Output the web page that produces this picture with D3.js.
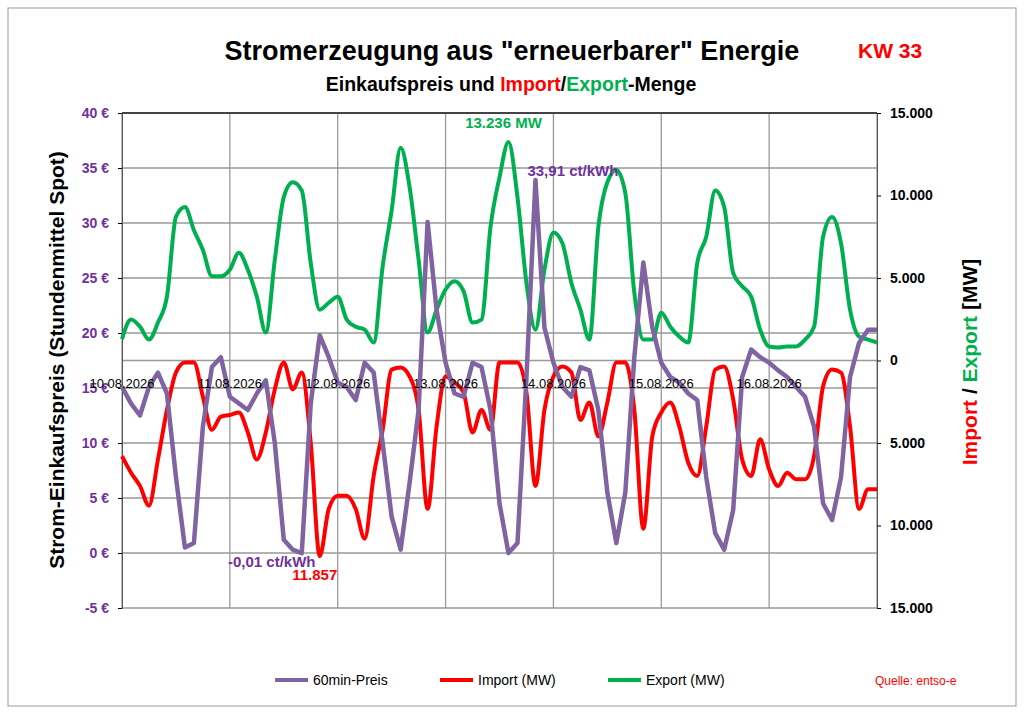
<!DOCTYPE html>
<html><head><meta charset="utf-8">
<script src="https://cdn.jsdelivr.net/npm/d3@7"></script>
<style>body{margin:0;background:#fff}svg{font-family:Arial,"Liberation Sans",sans-serif}</style>
</head><body><svg id="c" width="1024" height="724"></svg>
<script>
// 2-hour samples, 10.08.2026 00:00 .. 17.08.2026 00:00
const days = ["10.08.2026","11.08.2026","12.08.2026","13.08.2026","14.08.2026","15.08.2026","16.08.2026"];
const price = [15.1,13.6,12.5,15.1,16.4,14.5,6.9,0.5,0.9,11.5,16.9,17.8,
  14.2,13.6,13.0,14.5,15.7,10.0,1.2,0.3,-0.01,13.6,19.8,17.8,
  15.5,15.1,13.9,17.3,16.4,10.0,3.3,0.3,6.4,13.0,30.1,22.1,
  17.3,14.5,14.2,17.3,16.9,13.0,4.5,0.0,0.9,16.0,33.91,20.5,
  17.3,15.1,14.2,16.9,16.6,13.0,5.5,0.9,5.5,17.8,26.4,20.5,
  17.3,16.0,15.5,14.5,13.9,6.9,1.8,0.3,3.9,16.0,18.5,17.8,
  17.3,16.6,16.0,15.1,14.2,11.5,4.5,3.0,6.9,16.0,19.1,20.3,20.3];
const importMW = [5800,6800,7600,8800,6000,3000,730,120,120,2200,4200,3400,
  3300,3150,4360,6000,4360,1750,120,1750,730,5000,11857,9000,
  8200,8200,9000,10800,7000,4200,550,420,970,3000,9000,4000,
  970,1330,1940,4360,3000,4200,120,120,120,1940,7600,3000,
  970,360,730,3600,2540,4600,2540,120,120,3000,10200,4600,
  3150,2540,4000,6200,7000,4000,550,360,2360,6000,7000,4780,
  6600,7600,6800,7200,7200,5800,1570,550,730,4000,9000,7800,7800];
const exportMW = [1300,2480,2050,1270,2300,3870,8700,9300,7900,6700,5100,5100,
  5500,6530,5500,3870,1700,6100,9900,10800,10300,5900,3080,3500,
  3870,2480,2050,1870,1090,5700,9100,12900,10500,6100,1700,3080,
  4300,4800,4200,2300,2480,8100,11100,13236,9900,4700,1870,5500,
  7750,7100,4700,3080,1270,8100,10800,11550,10150,4100,1270,1270,
  2900,2050,1450,1090,5900,7500,10300,9300,5300,4500,3870,1870,
  850,790,850,850,1270,2050,7500,8700,7100,3080,1450,1270,1090];
const priceTicks = d3.range(-5,41,5);
const mwTicks = [-15000,-10000,-5000,0,5000,10000,15000];

const svg = d3.select("#c");
const L = 122, R = 877, T = 113, B = 608;
const x = d3.scaleLinear().domain([0, 168]).range([L, R]);
const yP = d3.scaleLinear().domain([-5, 40]).range([B, T]);
const yM = d3.scaleLinear().domain([-15000, 15000]).range([B, T]);
const hours = price.map((d, i) => i * 2);

svg.append("rect").attr("x",8).attr("y",8).attr("width",1008).attr("height",698)
  .attr("fill","none").attr("stroke","#999");

// grid
const g = svg.append("g");
priceTicks.forEach(t => g.append("line").attr("x1",L).attr("x2",R).attr("y1",yP(t)).attr("y2",yP(t)).attr("stroke","#999").attr("stroke-width",1.3));
g.append("line").attr("x1",L).attr("x2",R).attr("y1",yM(0)).attr("y2",yM(0)).attr("stroke","#999").attr("stroke-width",1.3);
d3.range(0,8).forEach(d => g.append("line").attr("x1",x(d*24)).attr("x2",x(d*24)).attr("y1",T).attr("y2",B).attr("stroke","#999").attr("stroke-width",1.3));
g.append("line").attr("x1",L).attr("x2",R).attr("y1",T).attr("y2",T).attr("stroke","#444").attr("stroke-width",2);

// axes
const la = svg.append("g").attr("transform",`translate(${L},0)`)
  .call(d3.axisLeft(yP).tickValues(priceTicks).tickSize(4).tickFormat(d => d + " €"));
la.select(".domain").attr("stroke","#555");
la.selectAll("text").attr("fill","#7030a0").attr("font-weight","bold").attr("font-size",14).attr("dx",-6);
const fmt = d => d3.format(",")(Math.abs(d)).replace(/,/g, ".");
const ra = svg.append("g").attr("transform",`translate(${R},0)`)
  .call(d3.axisRight(yM).tickValues(mwTicks).tickSize(4).tickFormat(fmt));
ra.select(".domain").attr("stroke","#555");
ra.selectAll("text").attr("fill","#000").attr("font-weight","bold").attr("font-size",14).attr("dx",6);

// lines
svg.append("path").datum(exportMW).attr("fill","none").attr("stroke","#00b050").attr("stroke-width",4)
  .attr("d", d3.line().x((d,i)=>x(hours[i])).y(d=>yM(d)).curve(d3.curveMonotoneX));
svg.append("path").datum(importMW).attr("fill","none").attr("stroke","#ff0000").attr("stroke-width",4)
  .attr("d", d3.line().x((d,i)=>x(hours[i])).y(d=>yM(-d)).curve(d3.curveMonotoneX));
svg.append("path").datum(price).attr("fill","none").attr("stroke","#8064a2").attr("stroke-width",4.5)
  .attr("stroke-linejoin","round")
  .attr("d", d3.line().x((d,i)=>x(hours[i])).y(d=>yP(d)).curve(d3.curveLinear));

// date labels (over the lines)
days.forEach((d, i) => svg.append("text").attr("x", x(i*24)).attr("y", 388)
  .attr("text-anchor","middle").attr("font-size",13).text(d));

// value labels
const iMinP = d3.minIndex(price), iMaxP = d3.maxIndex(price);
const iMaxE = d3.maxIndex(exportMW), iMaxI = d3.maxIndex(importMW);
const lab = (tx, ty, txt, col, anchor) => svg.append("text").attr("x",tx).attr("y",ty)
  .attr("fill",col).attr("font-weight","bold").attr("font-size",15).attr("text-anchor",anchor||"middle").text(txt);
lab(x(hours[iMinP]) - 30, yP(price[iMinP]) + 14, price[iMinP].toFixed(2).replace(".", ",") + " ct/kWh", "#7030a0");
lab(x(hours[iMaxI]) - 5, yM(-importMW[iMaxI]) + 24, fmt(importMW[iMaxI]), "#ff0000");
lab(x(hours[iMaxE]) - 5, yM(exportMW[iMaxE]) - 14, fmt(exportMW[iMaxE]) + " MW", "#00b050");
lab(x(hours[iMaxP]) - 8, yP(price[iMaxP]) - 4, price[iMaxP].toFixed(2).replace(".", ",") + " ct/kWh", "#7030a0", "start");

// titles
svg.append("text").attr("x",512).attr("y",60).attr("text-anchor","middle").attr("font-weight","bold")
  .attr("font-size",27).text('Stromerzeugung aus "erneuerbarer" Energie');
svg.append("text").attr("x",858).attr("y",58).attr("text-anchor","start").attr("font-weight","bold")
  .attr("font-size",21).attr("fill","#ff0000").text("KW 33");
const st = svg.append("text").attr("x",511).attr("y",91).attr("text-anchor","middle").attr("font-weight","bold").attr("font-size",19.5);
st.append("tspan").text("Einkaufspreis und ");
st.append("tspan").attr("fill","#ff0000").text("Import");
st.append("tspan").text("/");
st.append("tspan").attr("fill","#00b050").text("Export");
st.append("tspan").text("-Menge");

svg.append("text").attr("transform","translate(64,360) rotate(-90)").attr("text-anchor","middle")
  .attr("font-weight","bold").attr("font-size",21).text("Strom-Einkaufspreis (Stundenmittel Spot)");
const rt = svg.append("text").attr("transform","translate(977,362) rotate(-90)").attr("text-anchor","middle")
  .attr("font-weight","bold").attr("font-size",21);
rt.append("tspan").attr("fill","#ff0000").text("Import");
rt.append("tspan").text(" / ");
rt.append("tspan").attr("fill","#00b050").text("Export");
rt.append("tspan").text(" [MW]");

// legend
[["60min-Preis","#8064a2",275],["Import (MW)","#ff0000",440],["Export (MW)","#00b050",608]].forEach(([t,c,lx]) => {
  svg.append("line").attr("x1",lx).attr("x2",lx+33).attr("y1",680).attr("y2",680).attr("stroke",c).attr("stroke-width",4);
  svg.append("text").attr("x",lx+38).attr("y",685).attr("font-size",14).text(t);
});
svg.append("text").attr("x",875).attr("y",685).attr("font-size",12).attr("fill","#ff0000").text("Quelle: entso-e");
</script></body></html>
